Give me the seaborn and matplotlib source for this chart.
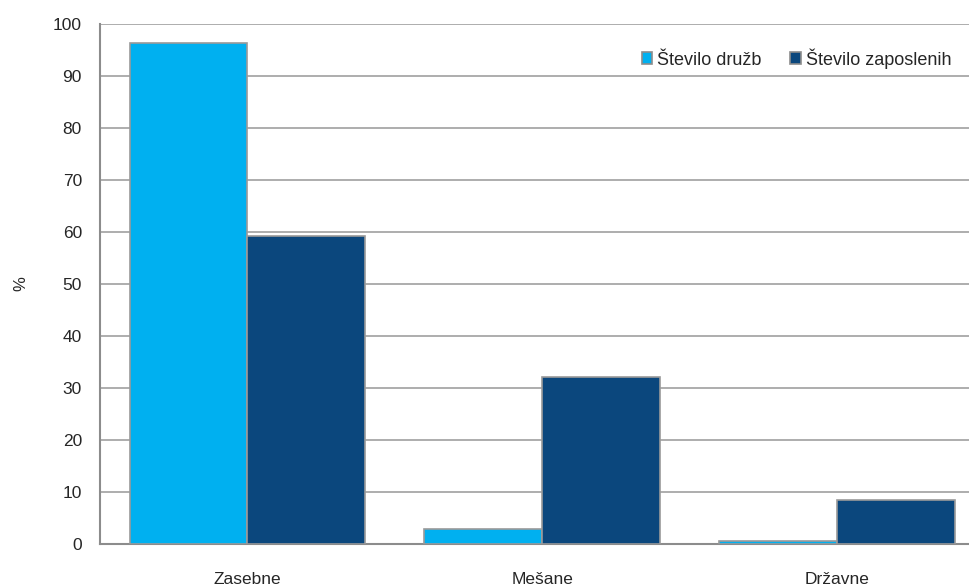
import matplotlib

matplotlib.use("Agg")
import matplotlib.pyplot as plt
import pandas as pd
import seaborn as sns

categories = ["Zasebne", "Mešane", "Državne"]
stevilo_druzb = [96.3, 2.8, 0.6]
stevilo_zaposlenih = [59.2, 32.1, 8.4]
series_names = ["Število družb", "Število zaposlenih"]
yticks = list(range(0, 101, 10))

df = pd.DataFrame(
    {
        "kategorija": categories * 2,
        "serija": [series_names[0]] * 3 + [series_names[1]] * 3,
        "vrednost": stevilo_druzb + stevilo_zaposlenih,
    }
)

sns.set_style("white")
plt.rcParams["font.family"] = ["Liberation Sans", "DejaVu Sans"]

fig = plt.figure(figsize=(9.69, 5.86), dpi=100)
# axes runs slightly past the right edge, as in the original
ax = fig.add_axes([0.1032, 0.0717, 0.9133, 0.8874])

palette = {series_names[0]: "#00B0F0", series_names[1]: "#0B477D"}
sns.barplot(
    data=df,
    x="kategorija",
    y="vrednost",
    hue="serija",
    order=categories,
    hue_order=series_names,
    palette=palette,
    width=0.8,
    edgecolor="#9A9A9A",
    linewidth=1.2,
    saturation=1,
    ax=ax,
    zorder=3,
)

ax.set_xlim(-0.5, len(categories) - 0.5)
ax.set_ylim(0, 100)
ax.set_yticks(yticks)
ax.yaxis.grid(True, color="#A0A0A0", linewidth=1.2, zorder=0)
ax.set_axisbelow(True)

# category labels centred, tick marks on the boundaries
ax.set_xticks(range(len(categories)))
ax.set_xticklabels(categories)
ax.set_xticks([i - 0.5 for i in range(len(categories))], minor=True)
ax.tick_params(axis="x", which="major", length=0, pad=20, labelsize=12.5)
ax.tick_params(axis="x", which="minor", length=5, width=1.2, color="#8C8C8C", direction="out")
ax.tick_params(axis="y", length=5, width=1.2, color="#8C8C8C", direction="out", labelsize=12.5, pad=8)

for side in ["top", "right"]:
    ax.spines[side].set_visible(False)
for side in ["left", "bottom"]:
    ax.spines[side].set_color("#8C8C8C")
    ax.spines[side].set_linewidth(1.5)

ax.set_xlabel("")
ax.set_ylabel("%", fontsize=12, labelpad=18)

handles, labels = ax.get_legend_handles_labels()
for h in handles:
    h.set_edgecolor("#8C8C8C")
leg = ax.legend(
    handles,
    labels,
    loc="upper right",
    bbox_to_anchor=(0.98, 0.985),
    ncol=2,
    frameon=False,
    fontsize=13,
    handlelength=0.6,
    handleheight=0.6,
    handletextpad=0.25,
    columnspacing=1.6,
)

fig.savefig("out.png", dpi=100)
